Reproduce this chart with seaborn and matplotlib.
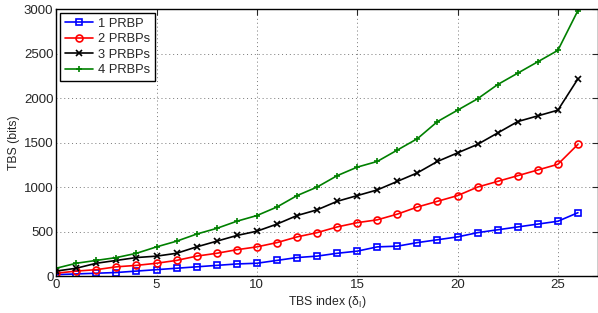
import matplotlib
matplotlib.use('Agg')
import matplotlib.pyplot as plt
import pandas as pd
import seaborn as sns

tbs_index = list(range(27))
prb1 = [16, 24, 32, 40, 56, 72, 88, 104, 120, 136, 144, 176, 208, 224, 256, 280,
        328, 336, 376, 408, 440, 488, 520, 552, 584, 616, 712]
prb2 = [32, 56, 72, 104, 120, 144, 176, 224, 256, 296, 328, 376, 440, 488, 552, 600,
        632, 696, 776, 840, 904, 1000, 1064, 1128, 1192, 1256, 1480]
prb3 = [56, 88, 144, 176, 208, 224, 256, 328, 392, 456, 504, 584, 680, 744, 840, 904,
        968, 1064, 1160, 1288, 1384, 1480, 1608, 1736, 1800, 1864, 2216]
prb4 = [88, 144, 176, 208, 256, 328, 392, 472, 536, 616, 680, 776, 904, 1000, 1128, 1224,
        1288, 1416, 1544, 1736, 1864, 1992, 2152, 2280, 2408, 2536, 2984]
labels = ['1 PRBP', '2 PRBPs', '3 PRBPs', '4 PRBPs']

sns.set_style('white')
plt.rcParams['font.family'] = ['Liberation Sans', 'DejaVu Sans']
plt.rcParams['mathtext.fontset'] = 'custom'
plt.rcParams['mathtext.rm'] = 'Liberation Sans'
plt.rcParams['mathtext.it'] = 'Liberation Sans'

fig = plt.figure(figsize=(5.98, 3.13), dpi=100)
ax = fig.add_axes([0.094, 0.118, 0.906, 0.853])

styles = [('blue', 's'), ('red', 'o'), ('black', 'x'), ('green', '+')]
for vals, lab, (c, m) in zip([prb1, prb2, prb3, prb4], labels, styles):
    df = pd.DataFrame({'idx': tbs_index, 'tbs': vals})
    sns.lineplot(data=df, x='idx', y='tbs', ax=ax, color=c, marker=m, label=lab,
                 markersize=5, markerfacecolor='none', markeredgecolor=c,
                 markeredgewidth=1.2, linewidth=1.2)

ax.set_xlim(0, 27)
ax.set_ylim(0, 3000)
ax.set_xticks([0, 5, 10, 15, 20, 25])
ax.set_yticks(range(0, 3001, 500))
ax.grid(True, linestyle=(0, (1, 3)), color='#777777', linewidth=0.7)
ax.tick_params(direction='in', top=True, right=True, labelsize=9.5, length=4, pad=2)
for s in ax.spines.values():
    s.set_color('black')
    s.set_linewidth(1.0)
ax.set_xlabel(r'TBS index ($\mathregular{\delta_I}$)', fontsize=8.8, labelpad=2)
ax.set_ylabel('TBS (bits)', fontsize=8.8, labelpad=3)
leg = ax.legend(loc='upper left', fontsize=9.3, frameon=True, fancybox=False,
                edgecolor='black', borderaxespad=0.3, handlelength=2.2,
                handletextpad=0.4, borderpad=0.35, labelspacing=0.28, framealpha=1)
leg.get_frame().set_linewidth(1.0)

fig.savefig('out.png', dpi=100)
